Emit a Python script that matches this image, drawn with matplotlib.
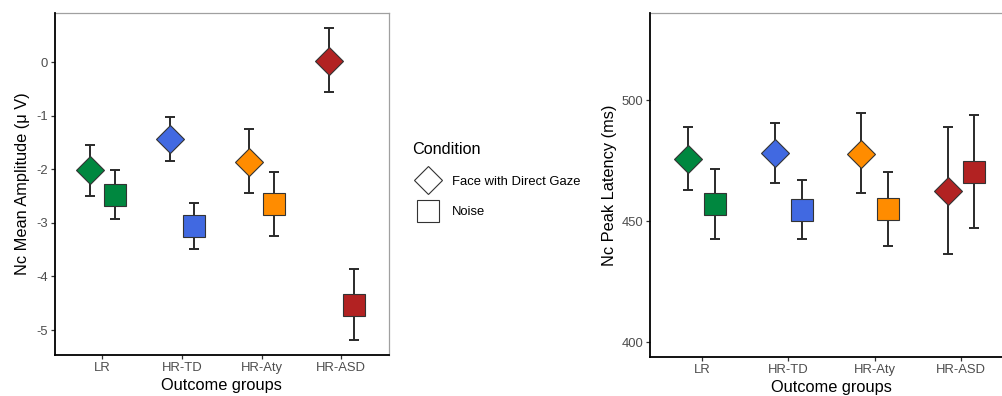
import matplotlib
matplotlib.use("Agg")
import matplotlib.pyplot as plt
from matplotlib.lines import Line2D
import numpy as np

plt.rcParams['font.family'] = ['Liberation Sans', 'DejaVu Sans']

groups = ['LR', 'HR-TD', 'HR-Aty', 'HR-ASD']
group_colors = ['#00873F', '#4169E1', '#FF8C00', '#B22222']
conditions = ['Face with Direct Gaze', 'Noise']

# Nc mean amplitude (µV): mean, lower and upper error bounds
amp_face = [-2.01, -1.43, -1.86, 0.03]
amp_face_lo = [-2.49, -1.85, -2.45, -0.56]
amp_face_hi = [-1.55, -1.02, -1.25, 0.635]
amp_noise = [-2.47, -3.06, -2.64, -4.53]
amp_noise_lo = [-2.93, -3.49, -3.24, -5.18]
amp_noise_hi = [-2.02, -2.62, -2.04, -3.86]

# Nc peak latency (ms): mean, lower and upper error bounds
lat_face = [475.8, 478.1, 477.8, 462.4]
lat_face_lo = [462.7, 465.7, 461.4, 436.4]
lat_face_hi = [488.8, 490.6, 494.5, 488.7]
lat_noise = [457.1, 454.7, 455.0, 470.4]
lat_noise_lo = [442.7, 442.4, 439.7, 447.1]
lat_noise_hi = [471.5, 467.1, 470.4, 493.8]

amp_ticks = [-5, -4, -3, -2, -1, 0]
lat_ticks = [400, 450, 500]

W, H = 1002, 396
fig = plt.figure(figsize=(W / 100, H / 100), dpi=100)


def px_axes(left, right, top, bottom):
    return fig.add_axes([left / W, (H - bottom) / H, (right - left) / W, (bottom - top) / H])


ax1 = px_axes(54.5, 389.1, 13.3, 355.0)
ax2 = px_axes(650.0, 1012.8, 12.7, 357.3)

DODGE = 0.155
marker_style = {
    'Face with Direct Gaze': dict(marker='D', ms=14.5),
    'Noise': dict(marker='s', ms=15.2),
}
ERR_COLOR = '#2a2a2a'


def draw_panel(ax, series, ticks, ylim, ylabel, label_x):
    x = np.arange(1, len(groups) + 1)
    for k, (cond, (mean, lo, hi)) in enumerate(zip(conditions, series)):
        xs = x + (-DODGE if k == 0 else DODGE)
        mean = np.asarray(mean)
        yerr = [mean - np.asarray(lo), np.asarray(hi) - mean]
        ax.errorbar(xs, mean, yerr=yerr, fmt='none', ecolor=ERR_COLOR,
                    elinewidth=1.4, capsize=3.4, capthick=1.4, zorder=2)
        for xi, yi, c in zip(xs, mean, group_colors):
            ax.plot([xi], [yi], ls='none', mfc=c, mec='#333333', mew=0.8,
                    zorder=3, **marker_style[cond])
    ax.set_xlim(0.4, len(groups) + 0.6)
    ax.set_ylim(*ylim)
    ax.set_xticks(x)
    ax.set_xticklabels(groups)
    ax.set_yticks(ticks)
    ax.set_yticklabels([f'{t:g}' for t in ticks])
    ax.tick_params(axis='both', length=2.75, width=0.9, color='#333333',
                   labelsize=9.4, labelcolor='#4D4D4D', pad=2.2)
    for side in ('left', 'bottom'):
        ax.spines[side].set_color('black')
        ax.spines[side].set_linewidth(1.3)
        ax.spines[side].set_zorder(4)
    for side in ('top', 'right'):
        ax.spines[side].set_color('#a0a0a0')
        ax.spines[side].set_linewidth(0.9)
    ax.set_xlabel('Outcome groups', fontsize=11.8, color='black', labelpad=3)
    ax.set_ylabel(ylabel, fontsize=11.8, color='black')
    ax.yaxis.set_label_coords(label_x, 0.5)


draw_panel(ax1,
           [(amp_face, amp_face_lo, amp_face_hi), (amp_noise, amp_noise_lo, amp_noise_hi)],
           amp_ticks, (-5.467, 0.916), 'Nc Mean Amplitude (μ V)', -0.0747)
draw_panel(ax2,
           [(lat_face, lat_face_lo, lat_face_hi), (lat_noise, lat_noise_lo, lat_noise_hi)],
           lat_ticks, (393.7, 536.1), 'Nc Peak Latency (ms)', -0.0896)

handles = [Line2D([], [], ls='none', mfc='white', mec='#333333', mew=0.8,
                  **marker_style[c]) for c in conditions]
leg = fig.legend(handles, conditions, title='Condition', loc='upper left',
                 bbox_to_anchor=(412.3 / W, (H - 141.8) / H), frameon=False,
                 borderpad=0, borderaxespad=0, fontsize=9.4, title_fontsize=11.7,
                 handlelength=2.4, handletextpad=0.64, labelspacing=1.43,
                 alignment='left')

fig.savefig('out.png', dpi=100)
